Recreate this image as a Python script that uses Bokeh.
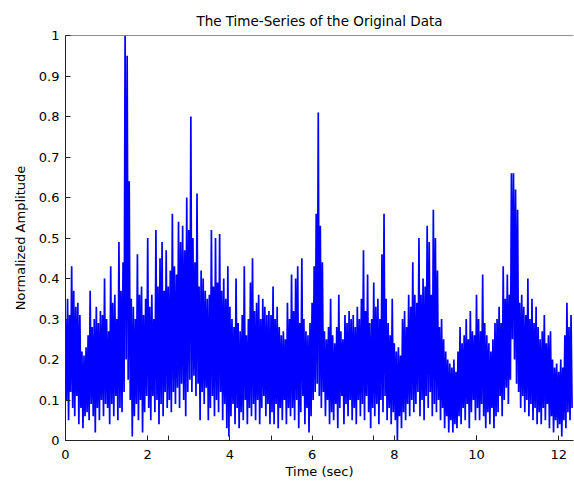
import numpy as np
from bokeh.plotting import figure
from bokeh.models import Range1d, FixedTicker, Span, ColumnDataSource
from bokeh.embed import file_html
from bokeh.resources import INLINE

# ---- data ----
sample_period = 0.025  # seconds between samples

amplitude = [
    0.30, 0.10, 0.35, 0.05, 0.31, 0.12, 0.43, 0.08, 0.37, 0.06, 0.33, 0.11, 0.34, 0.04, 0.31, 0.08, 0.22, 0.03, 0.21, 0.06,
    0.23, 0.07, 0.26, 0.05, 0.37, 0.09, 0.28, 0.06, 0.30, 0.02, 0.33, 0.08, 0.29, 0.05, 0.32, 0.10, 0.31, 0.06, 0.40, 0.09,
    0.30, 0.08, 0.27, 0.04, 0.43, 0.09, 0.34, 0.06, 0.36, 0.11, 0.30, 0.05, 0.49, 0.08, 0.37, 0.07, 0.44, 0.12, 1.00, 0.20,
    0.95, 0.15, 0.64, 0.10, 0.35, 0.01, 0.33, 0.06, 0.30, 0.09, 0.46, 0.05, 0.36, 0.10, 0.38, 0.02, 0.31, 0.07, 0.35, 0.11,
    0.50, 0.08, 0.33, 0.05, 0.36, 0.11, 0.30, 0.07, 0.52, 0.10, 0.38, 0.04, 0.45, 0.09, 0.49, 0.06, 0.37, 0.12, 0.47, 0.08,
    0.38, 0.10, 0.42, 0.07, 0.56, 0.12, 0.43, 0.09, 0.41, 0.13, 0.54, 0.08, 0.49, 0.14, 0.53, 0.10, 0.47, 0.06, 0.60, 0.12,
    0.52, 0.15, 0.80, 0.12, 0.50, 0.16, 0.44, 0.11, 0.61, 0.14, 0.38, 0.05, 0.42, 0.12, 0.40, 0.09, 0.37, 0.13, 0.35, 0.05,
    0.36, 0.08, 0.52, 0.11, 0.38, 0.06, 0.50, 0.10, 0.39, 0.07, 0.51, 0.12, 0.37, 0.05, 0.40, 0.09, 0.35, 0.03, 0.43, 0.01,
    0.33, 0.06, 0.30, 0.09, 0.28, 0.04, 0.40, 0.08, 0.29, 0.03, 0.27, 0.07, 0.31, 0.05, 0.43, 0.10, 0.26, 0.04, 0.30, 0.08,
    0.39, 0.06, 0.45, 0.09, 0.32, 0.05, 0.34, 0.10, 0.36, 0.04, 0.30, 0.08, 0.35, 0.11, 0.33, 0.06, 0.31, 0.09, 0.32, 0.04,
    0.31, 0.07, 0.38, 0.04, 0.30, 0.09, 0.33, 0.03, 0.28, 0.08, 0.26, 0.05, 0.27, 0.10, 0.25, 0.04, 0.34, 0.08, 0.30, 0.06,
    0.41, 0.08, 0.32, 0.05, 0.40, 0.10, 0.43, 0.03, 0.29, 0.07, 0.45, 0.11, 0.30, 0.04, 0.27, 0.08, 0.26, 0.02, 0.29, 0.06,
    0.34, 0.10, 0.43, 0.12, 0.56, 0.14, 0.81, 0.11, 0.53, 0.08, 0.44, 0.12, 0.27, 0.06, 0.25, 0.10, 0.28, 0.04, 0.35, 0.07,
    0.26, 0.05, 0.24, 0.09, 0.28, 0.03, 0.36, 0.08, 0.27, 0.11, 0.25, 0.04, 0.31, 0.09, 0.29, 0.06, 0.32, 0.10, 0.30, 0.05,
    0.31, 0.08, 0.28, 0.04, 0.33, 0.10, 0.30, 0.06, 0.35, 0.09, 0.47, 0.05, 0.32, 0.11, 0.41, 0.07, 0.29, 0.03, 0.30, 0.08,
    0.39, 0.06, 0.33, 0.09, 0.35, 0.04, 0.30, 0.10, 0.46, 0.07, 0.56, 0.11, 0.35, 0.05, 0.29, 0.08, 0.26, 0.04, 0.35, 0.07,
    0.24, 0.05, 0.22, 0.00, 0.23, 0.06, 0.21, 0.03, 0.30, 0.07, 0.32, 0.05, 0.28, 0.09, 0.36, 0.06, 0.33, 0.10, 0.44, 0.07,
    0.36, 0.09, 0.34, 0.12, 0.50, 0.06, 0.36, 0.10, 0.40, 0.05, 0.38, 0.11, 0.53, 0.08, 0.49, 0.12, 0.36, 0.06, 0.57, 0.09,
    0.50, 0.07, 0.42, 0.10, 0.28, 0.05, 0.30, 0.08, 0.25, 0.03, 0.22, 0.06, 0.20, 0.02, 0.19, 0.05, 0.18, 0.02, 0.20, 0.04,
    0.17, 0.03, 0.22, 0.06, 0.28, 0.04, 0.24, 0.08, 0.26, 0.05, 0.30, 0.09, 0.25, 0.03, 0.32, 0.07, 0.27, 0.10, 0.26, 0.05,
    0.36, 0.08, 0.30, 0.05, 0.27, 0.09, 0.41, 0.06, 0.29, 0.03, 0.26, 0.07, 0.24, 0.04, 0.22, 0.08, 0.25, 0.03, 0.29, 0.06,
    0.30, 0.07, 0.33, 0.11, 0.29, 0.06, 0.43, 0.10, 0.35, 0.13, 0.41, 0.09, 0.36, 0.15, 0.66, 0.25, 0.66, 0.20, 0.62, 0.14,
    0.57, 0.12, 0.34, 0.08, 0.36, 0.11, 0.33, 0.07, 0.31, 0.10, 0.40, 0.06, 0.30, 0.09, 0.35, 0.05, 0.29, 0.08, 0.33, 0.04,
    0.28, 0.07, 0.25, 0.04, 0.27, 0.08, 0.31, 0.05, 0.24, 0.09, 0.26, 0.03, 0.27, 0.06, 0.20, 0.02, 0.18, 0.05, 0.19, 0.03,
    0.17, 0.04, 0.20, 0.01, 0.18, 0.05, 0.26, 0.03, 0.34, 0.07, 0.28, 0.05, 0.31, 0.08,
]

x_ticks = [0, 2, 4, 6, 8, 10, 12]
x_minor_ticks = [2.5, 5, 7.5, 10]
y_ticks = [0, 0.1, 0.2, 0.3, 0.4, 0.5, 0.6, 0.7, 0.8, 0.9, 1]
y_tick_labels = ["0", "0.1", "0.2", "0.3", "0.4", "0.5", "0.6", "0.7", "0.8", "0.9", "1"]

title_text = "The Time-Series of the Original Data"
x_label = "Time (sec)"
y_label = "Normalized Amplitude"

time = np.arange(len(amplitude)) * sample_period
source = ColumnDataSource(data=dict(time=time, amplitude=amplitude))

FONT = "DejaVu Sans"

p = figure(
    width=574, height=487,
    output_backend="svg", toolbar_location=None,
    x_range=Range1d(0, 12.36), y_range=Range1d(0, 1),
    min_border_left=65, min_border_right=1, min_border_top=35, min_border_bottom=47,
    background_fill_color="white", border_fill_color="white",
)
p.outline_line_color = None
p.grid.visible = False

p.title.text = title_text
p.title.align = "center"
p.title.text_font = FONT
p.title.text_font_size = "13.5px"
p.title.text_font_style = "normal"
p.title.text_color = "black"
p.title.standoff = 14

p.line("time", "amplitude", source=source, line_color="#0000ff", line_width=1.7)

xa = p.xaxis[0]
xa.ticker = FixedTicker(ticks=x_ticks, minor_ticks=x_minor_ticks)
xa.major_tick_in = 5
xa.major_tick_out = 0
xa.minor_tick_in = 5
xa.minor_tick_out = 0
xa.axis_label = x_label
xa.major_label_standoff = 9
xa.axis_label_standoff = 2

ya = p.yaxis[0]
ya.ticker = FixedTicker(ticks=y_ticks)
ya.major_label_overrides = {t: s for t, s in zip(y_ticks, y_tick_labels)}
ya.major_tick_in = 5
ya.major_tick_out = 0
ya.minor_tick_in = 0
ya.minor_tick_out = 0
ya.axis_label = y_label
ya.major_label_standoff = 6
ya.axis_label_standoff = 8

for ax in (xa, ya):
    ax.axis_line_color = "#222222"
    ax.major_tick_line_color = "#222222"
    ax.minor_tick_line_color = "#222222"
    ax.major_label_text_font = FONT
    ax.major_label_text_font_size = "13px"
    ax.major_label_text_color = "black"
    ax.axis_label_text_font = FONT
    ax.axis_label_text_font_size = "13px"
    ax.axis_label_text_font_style = "normal"
    ax.axis_label_text_color = "black"

p.add_layout(Span(location=1, dimension="width", line_color="#222222", line_width=1))

open("out.html", "w").write(file_html(p, INLINE))
